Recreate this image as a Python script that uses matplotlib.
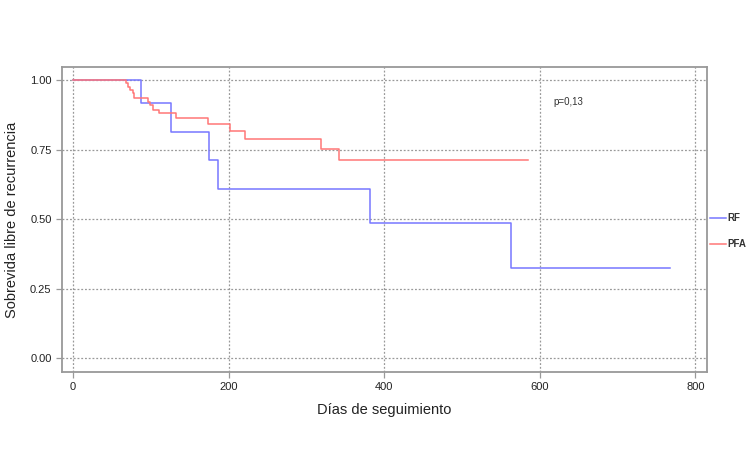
import numpy as np
import matplotlib
matplotlib.use('Agg')
import matplotlib.pyplot as plt
from matplotlib.lines import Line2D

plt.rcParams['font.family'] = ['Liberation Sans', 'DejaVu Sans']

# Kaplan-Meier curves (time in days, survival)
rf_t = [0, 88, 126, 175, 187, 382, 563, 767]
rf_s = [1.00, 0.916, 0.814, 0.712, 0.609, 0.487, 0.324, 0.324]

pfa_t = [0, 68, 71, 74, 77, 78.5, 96, 99, 102.5, 110, 133, 173, 202, 221,
         319, 342.5, 585]
pfa_s = [1.00, 0.990, 0.976, 0.964, 0.952, 0.934, 0.922, 0.910, 0.894,
         0.880, 0.862, 0.841, 0.818, 0.789, 0.753, 0.712, 0.712]

series_names = ['RF', 'PFA']
series_colors = ['#7777ff', '#ff7777']
p_text = 'p=0,13'

fig = plt.figure(figsize=(7.5, 4.69), dpi=100)
ax = fig.add_axes([0.0827, 0.207, 0.860, 0.650])

ax.step(rf_t, rf_s, where='post', color=series_colors[0], lw=1.1)
ax.step(pfa_t, pfa_s, where='post', color=series_colors[1], lw=1.1)

ax.set_xlim(-14, 815)
ax.set_ylim(-0.05, 1.047)
ax.set_xticks([0, 200, 400, 600, 800])
ax.set_yticks([0, 0.25, 0.5, 0.75, 1.0])
ax.set_yticklabels(['0.00', '0.25', '0.50', '0.75', '1.00'])
ax.grid(True, ls=(0, (1.5, 1.5)), color='#999999', lw=0.9)
ax.set_axisbelow(True)

for sp in ax.spines.values():
    sp.set_color('#999999')
    sp.set_linewidth(1.3)
ax.tick_params(direction='out', length=4, color='#999999', width=0.9,
               labelsize=8, labelcolor='#222222')

ax.set_xlabel('Días de seguimiento', fontsize=10.5, color='#222222', labelpad=8)
ax.set_ylabel('Sobrevida libre de recurrencia', fontsize=10.5,
              color='#222222', labelpad=8)

ax.text(617, 0.92, p_text, fontsize=7, color='#333333', va='center')

handles = [Line2D([], [], color=c, lw=1.1) for c in series_colors]
leg = fig.legend(handles, series_names, loc='center left',
                 bbox_to_anchor=(0.947, 0.507), frameon=False,
                 borderpad=0, borderaxespad=0,
                 handlelength=1.6, handletextpad=0.2, labelspacing=1.7,
                 prop={'weight': 'bold', 'size': 7})
for t in leg.get_texts():
    t.set_color('#333333')

fig.savefig('out.png', dpi=100)
